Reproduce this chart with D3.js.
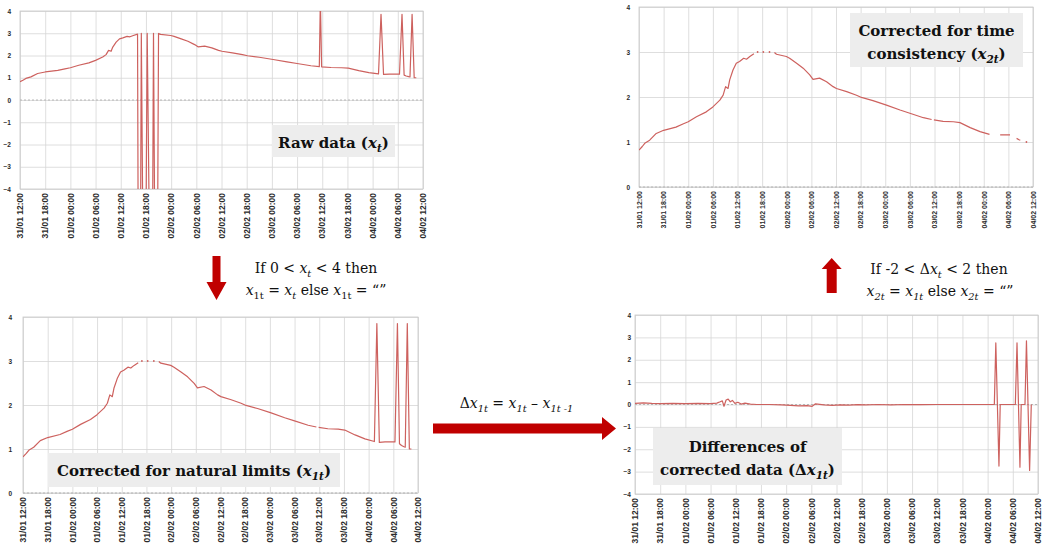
<!DOCTYPE html>
<html>
<head>
<meta charset="utf-8">
<style>
  body { margin: 0; background: #fff; }
  svg { font-family: "Liberation Serif", "DejaVu Serif", serif; }
  .tick text { font-weight: bold; fill: #2a2a2a; }
  .grid line { stroke: #d6d6d6; stroke-width: 0.8; }
  .grid path { stroke: none; }
</style>
</head>
<body>
<script src="https://d3js.org/d3.v7.min.js"></script>
<script>
// hours since 31/01 12:00
var hours = [0, 0.8, 1.4, 2.6, 4.2, 6, 9, 10.7, 12, 14, 16.4, 18, 19.7, 20.5, 21.1, 21.7, 22.1, 22.9, 23.7, 24.5,
             25.5, 26.2, 27, 28.0, 28.2, 28.65, 28.9, 29.4, 29.9, 30.3, 31.0, 31.5, 31.8, 32.2, 32.7, 33.0, 33.5, 35.9, 36.7, 38.4,
             40, 41.6, 42.4, 44, 45.7, 47.3, 48.1, 50.6, 53, 54.2, 57, 60.3, 63.6, 66, 69.3, 71.3, 71.55, 71.85, 74.1, 76.6,
             78.2, 80.7, 83.1, 85.4, 86.0, 86.6, 88.0, 90.4, 91.0, 91.5, 92.0, 92.6, 92.9, 93.4, 93.9, 94.4];

// raw data x_t
var rawValues = [0.82, 0.9, 0.97, 1.04, 1.19, 1.26, 1.33, 1.40, 1.45, 1.56, 1.67, 1.78, 1.93, 2.04, 2.23, 2.19, 2.38, 2.6, 2.75, 2.79,
                 2.86, 2.84, 2.9, 2.96, -9, -9, 3.0, -9, -9, 3.0, -9, -9, 3.0, -9, -9, 2.99, 2.95, 2.9, 2.86, 2.75,
                 2.64, 2.49, 2.39, 2.42, 2.34, 2.23, 2.19, 2.12, 2.04, 1.99, 1.92, 1.82, 1.71, 1.64, 1.54, 1.50, 4.5, 1.49, 1.46, 1.45,
                 1.43, 1.32, 1.23, 1.17, 3.85, 1.15, 1.16, 1.16, 3.85, 1.12, 1.08, 1.05, 1.04, 3.85, 1.0, 1.0];

// corrected for natural limits x_1t
var limitValues = [0.82, 0.9, 0.97, 1.04, 1.19, 1.26, 1.33, 1.40, 1.45, 1.56, 1.67, 1.78, 1.93, 2.04, 2.23, 2.19, 2.38, 2.6, 2.75, 2.79,
                   2.86, 2.84, 2.9, 2.96, null, null, 3.0, null, null, 3.0, null, null, 3.0, null, null, 2.99, 2.95, 2.9, 2.86, 2.75,
                   2.64, 2.49, 2.39, 2.42, 2.34, 2.23, 2.19, 2.12, 2.04, 1.99, 1.92, 1.82, 1.71, 1.64, 1.54, 1.50, null, 1.49, 1.46, 1.45,
                   1.43, 1.32, 1.23, 1.17, 3.85, 1.15, 1.16, 1.16, 3.85, 1.12, 1.08, 1.05, 1.04, 3.85, 1.0, 1.0];

// corrected for time consistency x_2t
var consistentValues = [0.82, 0.9, 0.97, 1.04, 1.19, 1.26, 1.33, 1.40, 1.45, 1.56, 1.67, 1.78, 1.93, 2.04, 2.23, 2.19, 2.38, 2.6, 2.75, 2.79,
                        2.86, 2.84, 2.9, 2.96, null, null, 3.0, null, null, 3.0, null, null, 3.0, null, null, 2.99, 2.95, 2.9, 2.86, 2.75,
                        2.64, 2.49, 2.39, 2.42, 2.34, 2.23, 2.19, 2.12, 2.04, 1.99, 1.92, 1.82, 1.71, 1.64, 1.54, 1.50, null, 1.49, 1.46, 1.45,
                        1.43, 1.32, 1.23, 1.17, null, null, 1.16, 1.16, null, null, 1.08, 1.05, 1.04, null, null, 1.0];

// differences of corrected data dx_1t
var diffHours = [0, 2, 4, 6, 9, 12, 15, 18, 19.5, 20.3, 20.8, 21.2, 21.7, 22.2, 22.7, 23.2, 23.8, 24.5, 25.3, 26.2,
                 27.5, 29, 32, 35, 37, 39, 41, 42.2, 43, 45, 47, 49, 51, 53, 55, 58, 61, 64, 68, 72,
                 76, 80, 85.6, 85.95, 86.7, 87.0, 90.6, 91.0, 91.7, 92.0, 92.9, 93.25, 94.0, 94.4];
var diffValues = [0.05, 0.07, 0.05, 0.04, 0.05, 0.04, 0.05, 0.04, 0.06, 0.12, 0.16, -0.08, 0.2, 0.24, 0.12, 0.18, 0.05, 0.1, 0.02, 0.06,
                  0.02, 0.0, 0.0, -0.02, -0.04, -0.06, -0.05, -0.08, 0.03, -0.02, -0.04, -0.02, -0.03, -0.01, -0.02, 0.0, -0.02, 0.0, -0.01, 0.0,
                  0.0, 0.0, 0.0, 2.75, -2.75, 0.0, 0.0, 2.75, -2.8, 0.0, 0.0, 2.85, -2.95, 0.0];

var tickHours = [0, 6, 12, 18, 24, 30, 36, 42, 48, 54, 60, 66, 72, 78, 84, 90, 96];
var tickLabels = ["31/01 12:00", "31/01 18:00", "01/02 00:00", "01/02 06:00", "01/02 12:00", "01/02 18:00",
                  "02/02 00:00", "02/02 06:00", "02/02 12:00", "02/02 18:00", "03/02 00:00", "03/02 06:00",
                  "03/02 12:00", "03/02 18:00", "04/02 00:00", "04/02 06:00", "04/02 12:00"];

var lineColor = "#cd615e",
    arrowColor = "#c00000",
    boxFill = "#ededed",
    noteFont = "'DejaVu Serif', serif";

var svg = d3.select("body").append("svg")
    .attr("width", 1046)
    .attr("height", 548);

var panels = [
  {id: "p1", left: 20, right: 423, top: 11, bottom: 189, yDomain: [-4, 4], xs: hours, ys: rawValues, tickFont: 8.5, yOff: 9},
  {id: "p2", left: 639, right: 1033, top: 7, bottom: 187, yDomain: [0, 4], xs: hours, ys: consistentValues, tickFont: 7, yOff: 9},
  {id: "p3", left: 23, right: 418, top: 317, bottom: 493, yDomain: [0, 4], xs: hours, ys: limitValues, tickFont: 8.5, yOff: 11},
  {id: "p4", left: 635, right: 1038, top: 315, bottom: 494, yDomain: [-4, 4], xs: diffHours, ys: diffValues, tickFont: 8.5, yOff: 4}
];

panels.forEach(drawPanel);

function drawPanel(p) {
  var g = svg.append("g");
  var x = d3.scaleLinear().domain([0, 96]).range([p.left, p.right]);
  var y = d3.scaleLinear().domain(p.yDomain).range([p.bottom, p.top]);
  var yTicks = d3.range(p.yDomain[0], p.yDomain[1] + 1);

  g.append("clipPath").attr("id", "clip-" + p.id)
    .append("rect")
    .attr("x", p.left).attr("y", p.top)
    .attr("width", p.right - p.left).attr("height", p.bottom - p.top);

  // grid
  g.append("g").attr("class", "grid")
    .attr("transform", "translate(" + p.left + ",0)")
    .call(d3.axisLeft(y).tickValues(yTicks).tickSize(-(p.right - p.left)).tickFormat(""));
  g.append("g").attr("class", "grid")
    .attr("transform", "translate(0," + p.top + ")")
    .call(d3.axisBottom(x).tickValues(tickHours).tickSize(p.bottom - p.top).tickFormat(""));

  g.append("rect")
    .attr("x", p.left).attr("y", p.top)
    .attr("width", p.right - p.left).attr("height", p.bottom - p.top)
    .attr("fill", "none").attr("stroke", "#c8c8c8").attr("stroke-width", 0.8);

  // zero axis line, dashed
  g.append("line")
    .attr("x1", p.left).attr("x2", p.right)
    .attr("y1", y(0)).attr("y2", y(0))
    .attr("stroke", "#b0b0b0").attr("stroke-width", 0.9)
    .attr("stroke-dasharray", "2,2");

  // y labels
  var ya = g.append("g")
    .attr("transform", "translate(" + (p.left - p.yOff) + ",0)")
    .call(d3.axisLeft(y).tickValues(yTicks).tickSize(0).tickPadding(0).tickFormat(d3.format("d")));
  ya.select(".domain").remove();
  ya.selectAll("text").attr("font-size", 6.5);

  // x labels
  var xa = g.append("g")
    .attr("transform", "translate(0," + p.bottom + ")")
    .call(d3.axisBottom(x).tickValues(tickHours).tickSize(0)
      .tickFormat(function (d, i) { return tickLabels[i]; }));
  xa.select(".domain").remove();
  xa.selectAll("text")
    .attr("font-size", p.tickFont)
    .attr("transform", "rotate(-90)")
    .attr("text-anchor", "end")
    .attr("x", -4).attr("y", 0).attr("dy", "0.32em");

  var pts = p.xs.map(function (t, i) { return [t, p.ys[i]]; });
  var line = d3.line()
    .defined(function (d) { return d[1] !== null; })
    .x(function (d) { return x(d[0]); })
    .y(function (d) { return y(d[1]); });

  g.append("path")
    .datum(pts)
    .attr("clip-path", "url(#clip-" + p.id + ")")
    .attr("fill", "none")
    .attr("stroke", lineColor)
    .attr("stroke-width", 1.2)
    .attr("stroke-linejoin", "round")
    .attr("d", line);

  // lonely points between gaps
  var lonely = pts.filter(function (d, i) {
    if (d[1] === null) return false;
    var a = i > 0 ? pts[i - 1][1] : null, b = i < pts.length - 1 ? pts[i + 1][1] : null;
    return a === null && b === null;
  });
  g.selectAll("circle.lonely").data(lonely).join("circle")
    .attr("class", "lonely")
    .attr("cx", function (d) { return x(d[0]); })
    .attr("cy", function (d) { return y(d[1]); })
    .attr("r", 0.9)
    .attr("fill", lineColor);
}

// rich text with italic and subscripts
function richText(x, y, parts, size, weight) {
  var t = svg.append("text")
    .attr("x", x).attr("y", y)
    .attr("text-anchor", "middle")
    .attr("font-family", noteFont)
    .attr("font-size", size)
    .attr("font-weight", weight)
    .attr("fill", "#111");
  var inSub = false;
  parts.forEach(function (p) {
    var s = t.append("tspan").text(p.t);
    if (p.i) s.attr("font-style", "italic");
    if (p.sub) {
      s.attr("font-size", size * 0.7);
      if (!inSub) s.attr("dy", size * 0.25);
      inSub = true;
    } else if (inSub) {
      s.attr("dy", -size * 0.25);
      inSub = false;
    }
  });
  return t;
}

function box(x, y, w, h) {
  svg.append("rect").attr("x", x).attr("y", y).attr("width", w).attr("height", h).attr("fill", boxFill);
}

box(272, 125, 123, 32);
richText(333.5, 148, [{t: "Raw data ("}, {t: "x", i: 1}, {t: "t", i: 1, sub: 1}, {t: ")"}], 15, "bold");

box(850, 13, 173, 54);
richText(936.5, 36, [{t: "Corrected for time"}], 15, "bold");
richText(936.5, 59, [{t: "consistency ("}, {t: "x", i: 1}, {t: "2t", i: 1, sub: 1}, {t: ")"}], 15, "bold");

box(48, 453, 292, 34);
richText(194, 476, [{t: "Corrected for natural limits ("}, {t: "x", i: 1}, {t: "1t", i: 1, sub: 1}, {t: ")"}], 15, "bold");

box(653, 428, 189, 57);
richText(747.5, 452, [{t: "Differences of"}], 15, "bold");
richText(747.5, 475, [{t: "corrected data (Δ"}, {t: "x", i: 1}, {t: "1t", i: 1, sub: 1}, {t: ")"}], 15, "bold");

// rule texts
richText(316, 273, [{t: "If 0 < "}, {t: "x", i: 1}, {t: "t", i: 1, sub: 1}, {t: " < 4 then"}], 14, "normal");
richText(316, 295, [{t: "x", i: 1}, {t: "1t", sub: 1}, {t: " = "}, {t: "x", i: 1}, {t: "t", i: 1, sub: 1},
                    {t: " else "}, {t: "x", i: 1}, {t: "1t", sub: 1}, {t: " = “”"}], 14, "normal");

richText(939, 274, [{t: "If -2 < Δ"}, {t: "x", i: 1}, {t: "t", i: 1, sub: 1}, {t: " < 2 then"}], 14, "normal");
richText(940, 296, [{t: "x", i: 1}, {t: "2t", i: 1, sub: 1}, {t: " = "}, {t: "x", i: 1}, {t: "1t", i: 1, sub: 1},
                    {t: " else "}, {t: "x", i: 1}, {t: "2t", i: 1, sub: 1}, {t: " = “”"}], 14, "normal");

richText(516.5, 408, [{t: "Δ"}, {t: "x", i: 1}, {t: "1t", i: 1, sub: 1}, {t: " = "}, {t: "x", i: 1}, {t: "1t", i: 1, sub: 1},
                      {t: " – "}, {t: "x", i: 1}, {t: "1t -1", i: 1, sub: 1}], 14, "normal");

// arrows
function arrow(pts) {
  svg.append("path")
    .attr("d", "M" + pts.map(function (q) { return q.join(","); }).join("L") + "Z")
    .attr("fill", arrowColor);
}
// down
arrow([[212.5, 256], [220.5, 256], [220.5, 282], [226.5, 282], [216.5, 300], [206.5, 282], [212.5, 282]]);
// up
arrow([[826.7, 293], [836.7, 293], [836.7, 269], [841.7, 269], [831.7, 258], [821.7, 269], [826.7, 269]]);
// right
arrow([[433, 423.5], [602, 423.5], [602, 417], [616, 428.5], [602, 440], [602, 433.5], [433, 433.5]]);
</script>
</body>
</html>
